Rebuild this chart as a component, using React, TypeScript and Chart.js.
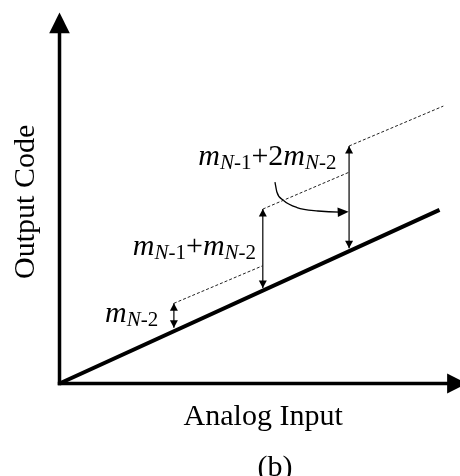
import React, { useEffect, useRef } from "react";
import { Chart, registerables } from "chart.js";

Chart.register(...registerables);

// ---------------- Data (diagram units: Analog Input → Output Code) ----------------
const transferX = [0, 10.0];
const transferY = [0, 4.57];

// offset arrows: x position, foot on transfer line, head on shifted line
const stepX = [3.01, 5.35, 7.62];
const stepBottomY = [1.47, 2.51, 3.56];
const stepTopY = [2.11, 4.59, 6.25];

// dashed shifted segments
const dashStartX = [3.01, 5.35, 7.62];
const dashStartY = [2.11, 4.59, 6.25];
const dashEndX = [5.35, 7.62, 10.1];
const dashEndY = [3.1, 5.56, 7.3];

// curved pointer from the top label to the third arrow
const curveX = [5.67, 5.72, 5.88, 6.25, 6.8, 7.38, 7.61];
const curveY = [5.3, 5.04, 4.83, 4.63, 4.54, 4.51, 4.52];

// axes (shaft end and arrow tip)
const axisEndX = 10.2;
const axisTipX = 10.72;
const axisEndY = 9.22;
const axisTipY = 9.76;

// labels
type Part = { t: string; it?: boolean; sub?: boolean };
const stepLabels: Part[][] = [
  [{ t: "m", it: true }, { t: "N", it: true, sub: true }, { t: "-2", sub: true }],
  [
    { t: "m", it: true }, { t: "N", it: true, sub: true }, { t: "-1", sub: true },
    { t: "+" },
    { t: "m", it: true }, { t: "N", it: true, sub: true }, { t: "-2", sub: true },
  ],
  [
    { t: "m", it: true }, { t: "N", it: true, sub: true }, { t: "-1", sub: true },
    { t: "+2" },
    { t: "m", it: true }, { t: "N", it: true, sub: true }, { t: "-2", sub: true },
  ],
];
const stepLabelX = [1.2, 1.93, 3.65];
const stepLabelY = [1.61, 3.38, 5.75];

const xTitle = "Analog Input";
const xTitlePos = [5.36, -1.09];
const yTitle = "Output Code";
const yTitlePos = [-0.67, 4.78];
const caption = "(b)";
const captionPos = [5.67, -2.434];

// ---------------- Scale frame ----------------
const X_MIN = -1.566;
const X_MAX = 10.539;
const Y_MIN = -2.434;
const Y_MAX = 10.092;

const FONT = '"Liberation Serif", "Times New Roman", serif';
const MAIN_SIZE = 30;
const SUB_SIZE = 21;
const SUB_SHIFT = 4;
const TITLE_SIZE = 30;

const pts = (xs: number[], ys: number[]) => xs.map((x, i) => ({ x, y: ys[i] }));

function head(ctx: CanvasRenderingContext2D, tip: any, from: any, len: number, halfW: number) {
  const dx = tip.x - from.x;
  const dy = tip.y - from.y;
  const d = Math.hypot(dx, dy) || 1;
  const ux = dx / d, uy = dy / d;
  const bx = tip.x - ux * len, by = tip.y - uy * len;
  const nx = -uy, ny = ux;
  ctx.beginPath();
  ctx.moveTo(tip.x, tip.y);
  ctx.lineTo(bx + nx * halfW, by + ny * halfW);
  ctx.lineTo(bx - nx * halfW, by - ny * halfW);
  ctx.closePath();
  ctx.fill();
}

function drawRich(ctx: CanvasRenderingContext2D, parts: Part[], x: number, y: number) {
  let cx = x;
  for (const p of parts) {
    const size = p.sub ? SUB_SIZE : MAIN_SIZE;
    ctx.font = `${p.it ? "italic " : ""}${size}px ${FONT}`;
    ctx.fillText(p.t, cx, y + (p.sub ? SUB_SHIFT : 0));
    cx += ctx.measureText(p.t).width;
  }
}

const decorPlugin = {
  id: "diagramDecor",
  afterDatasetsDraw(chart: any) {
    const { ctx } = chart;
    const xs = chart.scales.x;
    const ys = chart.scales.y;
    const P = (x: number, y: number) => ({ x: xs.getPixelForValue(x), y: ys.getPixelForValue(y) });
    ctx.save();
    ctx.fillStyle = "#000";
    // axis arrowheads
    head(ctx, P(axisTipX, 0), P(0, 0), P(axisTipX, 0).x - P(axisEndX, 0).x, 10);
    head(ctx, P(0, axisTipY), P(0, 0), P(0, axisEndY).y - P(0, axisTipY).y, 10.3);
    // step arrowheads (both ends)
    stepX.forEach((sx, i) => {
      const top = P(sx, stepTopY[i]);
      const bot = P(sx, stepBottomY[i]);
      head(ctx, top, bot, 7.5, 4);
      head(ctx, bot, top, 7.5, 4);
    });
    // curved pointer arrowhead
    const n = curveX.length;
    head(ctx, P(curveX[n - 1], curveY[n - 1]), P(curveX[n - 2], curveY[n - 2]), 11, 4.7);

    // labels
    ctx.textBaseline = "alphabetic";
    ctx.textAlign = "left";
    stepLabels.forEach((parts, i) => {
      const p = P(stepLabelX[i], stepLabelY[i]);
      drawRich(ctx, parts, p.x, p.y);
    });
    ctx.font = `${TITLE_SIZE}px ${FONT}`;
    ctx.textAlign = "center";
    const xt = P(xTitlePos[0], xTitlePos[1]);
    ctx.fillText(xTitle, xt.x, xt.y);
    const cp = P(captionPos[0], captionPos[1]);
    ctx.fillText(caption, cp.x, cp.y);
    const yt = P(yTitlePos[0], yTitlePos[1]);
    ctx.save();
    ctx.translate(yt.x, yt.y);
    ctx.rotate(-Math.PI / 2);
    ctx.fillText(yTitle, 0, 0);
    ctx.restore();
    ctx.restore();
  },
};

export default function App() {
  const ref = useRef<HTMLCanvasElement | null>(null);
  useEffect(() => {
    document.body.style.margin = "0";
    if (!ref.current) return;
    const line = (data: any[], extra: any) => ({
      data,
      showLine: true,
      pointRadius: 0,
      borderColor: "#000",
      fill: false,
      ...extra,
    });
    const datasets: any[] = [
      line([{ x: 0, y: 0 }, { x: axisEndX, y: 0 }], { borderWidth: 3.5, borderCapStyle: "square" }),
      line([{ x: 0, y: 0 }, { x: 0, y: axisEndY }], { borderWidth: 3.5, borderCapStyle: "square" }),
      line(pts(transferX, transferY), { borderWidth: 4 }),
      ...dashStartX.map((_, i) =>
        line(
          [{ x: dashStartX[i], y: dashStartY[i] }, { x: dashEndX[i], y: dashEndY[i] }],
          { borderWidth: 1, borderDash: [3, 2], borderColor: "#222" }
        )
      ),
      ...stepX.map((sx, i) =>
        line([{ x: sx, y: stepBottomY[i] }, { x: sx, y: stepTopY[i] }], { borderWidth: 1.2 })
      ),
      line(pts(curveX.slice(0, -1), curveY.slice(0, -1)).concat([{ x: curveX[curveX.length - 1] - 0.1, y: curveY[curveY.length - 1] }]), {
        borderWidth: 1.3,
        tension: 0.4,
        cubicInterpolationMode: "monotone",
      }),
    ];
    const chart = new Chart(ref.current, {
      type: "scatter",
      data: { datasets },
      options: {
        animation: false,
        responsive: false,
        devicePixelRatio: 1,
        layout: { padding: 0 },
        plugins: { legend: { display: false }, tooltip: { enabled: false }, title: { display: false } },
        events: [],
        scales: {
          x: { type: "linear", min: X_MIN, max: X_MAX, display: false },
          y: { type: "linear", min: Y_MIN, max: Y_MAX, display: false },
        },
      },
      plugins: [decorPlugin],
    });
    return () => chart.destroy();
  }, []);
  return (
    <div style={{ width: 460, height: 476, background: "#fff" }}>
      <canvas ref={ref} width={460} height={476} style={{ display: "block" }} />
    </div>
  );
}
